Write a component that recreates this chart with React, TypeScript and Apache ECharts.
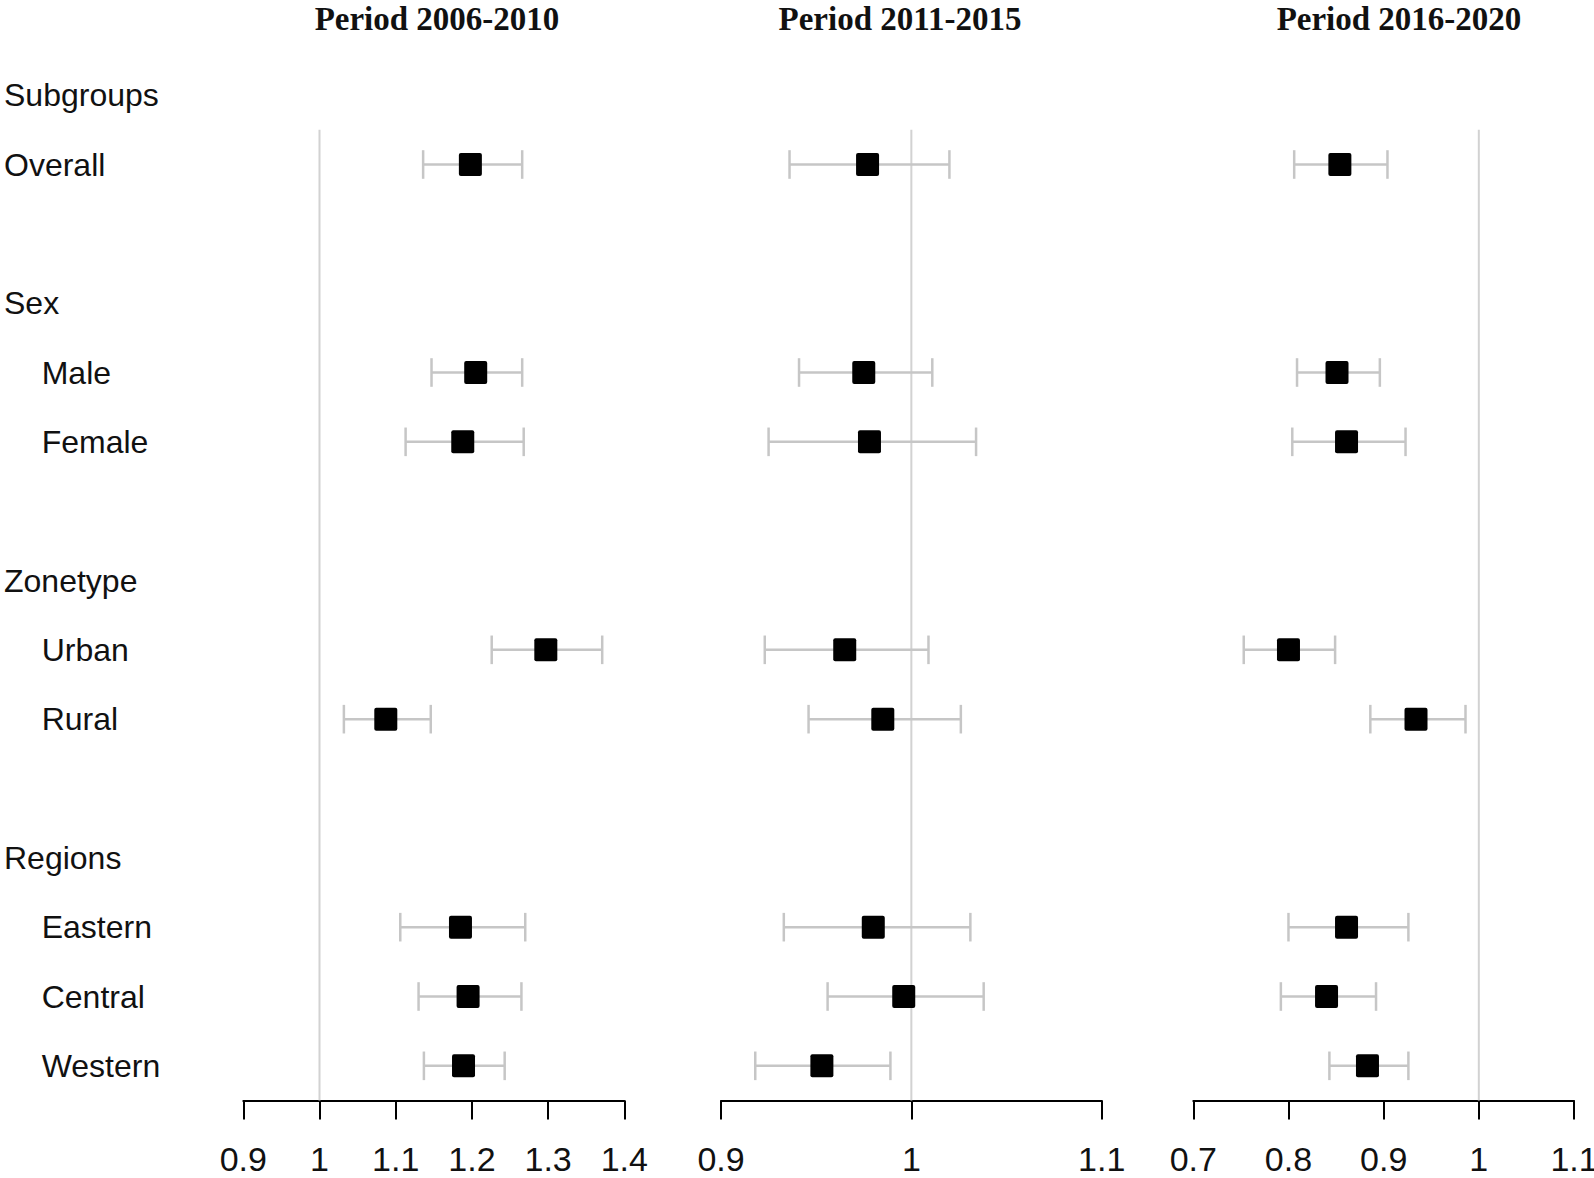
import React, { useEffect, useRef } from "react";
import * as echarts from "echarts";

const rowLabels = [
  "Subgroups", "Overall", "", "Sex", "Male", "Female", "",
  "Zonetype", "Urban", "Rural", "", "Regions", "Eastern", "Central", "Western",
];
const flushLabels = ["Subgroups", "Overall", "Sex", "Zonetype", "Regions"];
const subgroups = ["Overall", "Male", "Female", "Urban", "Rural", "Eastern", "Central", "Western"];

const periodTitles = ["Period 2006-2010", "Period 2011-2015", "Period 2016-2020"];

// Period 2006-2010
const p1Est = [1.198, 1.205, 1.188, 1.297, 1.087, 1.185, 1.195, 1.189];
const p1Lo = [1.136, 1.147, 1.113, 1.226, 1.032, 1.106, 1.130, 1.137];
const p1Hi = [1.266, 1.266, 1.268, 1.371, 1.146, 1.270, 1.265, 1.243];
// Period 2011-2015
const p2Est = [0.977, 0.975, 0.978, 0.965, 0.985, 0.980, 0.996, 0.953];
const p2Lo = [0.936, 0.941, 0.925, 0.923, 0.946, 0.933, 0.956, 0.918];
const p2Hi = [1.020, 1.011, 1.034, 1.009, 1.026, 1.031, 1.038, 0.989];
// Period 2016-2020
const p3Est = [0.854, 0.851, 0.861, 0.800, 0.934, 0.861, 0.840, 0.883];
const p3Lo = [0.806, 0.809, 0.804, 0.753, 0.886, 0.800, 0.792, 0.843];
const p3Hi = [0.904, 0.896, 0.923, 0.849, 0.986, 0.926, 0.892, 0.926];

const axisMins = [0.9, 0.9, 0.7];
const axisMaxs = [1.4, 1.1, 1.1];
const refValue = 1;

const SANS = "'Liberation Sans', Arial, Helvetica, sans-serif";
const SERIF = "'Liberation Serif', 'Times New Roman', serif";

export default function App() {
  const ref = useRef<HTMLDivElement>(null);

  useEffect(() => {
    if (!ref.current) return;
    const chart = echarts.init(ref.current, null, { renderer: "svg" });

    const periods = [
      { est: p1Est, lo: p1Lo, hi: p1Hi },
      { est: p2Est, lo: p2Lo, hi: p2Hi },
      { est: p3Est, lo: p3Lo, hi: p3Hi },
    ];

    const gridLefts = [243.3, 721, 1193.3];
    const gridWidths = [381, 380.7, 380.7];
    const titleCenters = [437, 900, 1399];

    const grids = gridLefts.map((l, i) => ({
      left: l,
      width: gridWidths[i],
      top: 60.5,
      height: 1040,
      containLabel: false,
      outerBoundsMode: "none",
    }));

    const xAxes = periods.map((_, i) => ({
      type: "value",
      gridIndex: i,
      min: axisMins[i],
      max: axisMaxs[i],
      interval: 0.1,
      splitLine: { show: false },
      axisLine: { show: true, onZero: false, lineStyle: { color: "#000", width: 2 } },
      axisTick: { show: true, inside: false, length: 19, lineStyle: { color: "#000", width: 2 } },
      axisLabel: {
        show: true,
        margin: 41,
        color: "#111",
        fontSize: 34,
        fontFamily: SANS,
        showMinLabel: true,
        showMaxLabel: true,
        hideOverlap: false,
      },
    }));

    const yAxes = periods.map((_, i) => ({
      type: "category",
      gridIndex: i,
      data: rowLabels,
      inverse: true,
      boundaryGap: true,
      show: i === 0,
      axisLine: { show: false },
      axisTick: { show: false },
      splitLine: { show: false },
      axisLabel: {
        show: i === 0,
        interval: 0,
        align: "left",
        margin: 239.3,
        formatter: (v: string) =>
          v === "" ? "" : flushLabels.includes(v) ? `{h|${v}}` : `{i|${v}}`,
        rich: {
          h: { fontSize: 32, fontFamily: SANS, color: "#111" },
          i: { fontSize: 32, fontFamily: SANS, color: "#111", padding: [0, 0, 0, 37.7] },
        },
      },
    }));

    const series: any[] = [];
    periods.forEach((p, i) => {
      // reference line at 1
      series.push({
        type: "custom",
        xAxisIndex: i,
        yAxisIndex: i,
        silent: true,
        data: [[refValue, 1]],
        encode: { x: 0, y: 1 },
        renderItem: (params: any, api: any) => {
          const band = api.size([0, 1])[1];
          const topPt = api.coord([api.value(0), 1]);
          const botPt = api.coord([api.value(0), rowLabels.length - 1]);
          return {
            type: "line",
            shape: { x1: topPt[0], y1: topPt[1] - band / 2, x2: botPt[0], y2: botPt[1] + band / 2 },
            style: { stroke: "#d2d2d2", lineWidth: 2 },
          };
        },
      });
      // error bars + squares
      series.push({
        type: "custom",
        xAxisIndex: i,
        yAxisIndex: i,
        silent: true,
        data: subgroups.map((g, k) => [p.lo[k], p.hi[k], rowLabels.indexOf(g), p.est[k]]),
        encode: { x: [0, 1, 3], y: 2 },
        renderItem: (params: any, api: any) => {
          const row = api.value(2);
          const a = api.coord([api.value(0), row]);
          const b = api.coord([api.value(1), row]);
          const c = api.coord([api.value(3), row]);
          const capH = 14.3;
          const sq = 23;
          const gray = { stroke: "#c6c6c6", lineWidth: 2.5 };
          return {
            type: "group",
            children: [
              { type: "line", shape: { x1: a[0], y1: a[1], x2: b[0], y2: b[1] }, style: gray },
              { type: "line", shape: { x1: a[0], y1: a[1] - capH, x2: a[0], y2: a[1] + capH }, style: gray },
              { type: "line", shape: { x1: b[0], y1: b[1] - capH, x2: b[0], y2: b[1] + capH }, style: gray },
              {
                type: "rect",
                shape: { x: c[0] - sq / 2, y: c[1] - sq / 2, width: sq, height: sq, r: 2 },
                style: { fill: "#000" },
              },
            ],
          };
        },
      });
    });

    const option: any = {
      animation: false,
      backgroundColor: "#fff",
      grid: grids,
      xAxis: xAxes,
      yAxis: yAxes,
      series,
      graphic: periodTitles.map((t, i) => ({
        type: "text",
        x: titleCenters[i],
        y: 19,
        style: {
          text: t,
          align: "center",
          verticalAlign: "middle",
          fontSize: 33,
          fontWeight: "bold",
          fontFamily: SERIF,
          fill: "#111",
        },
      })),
    };

    chart.setOption(option);
    return () => chart.dispose();
  }, []);

  return (
    <div
      ref={ref}
      style={{ position: "absolute", left: 0, top: 0, width: 1594, height: 1178, background: "#fff" }}
    />
  );
}
